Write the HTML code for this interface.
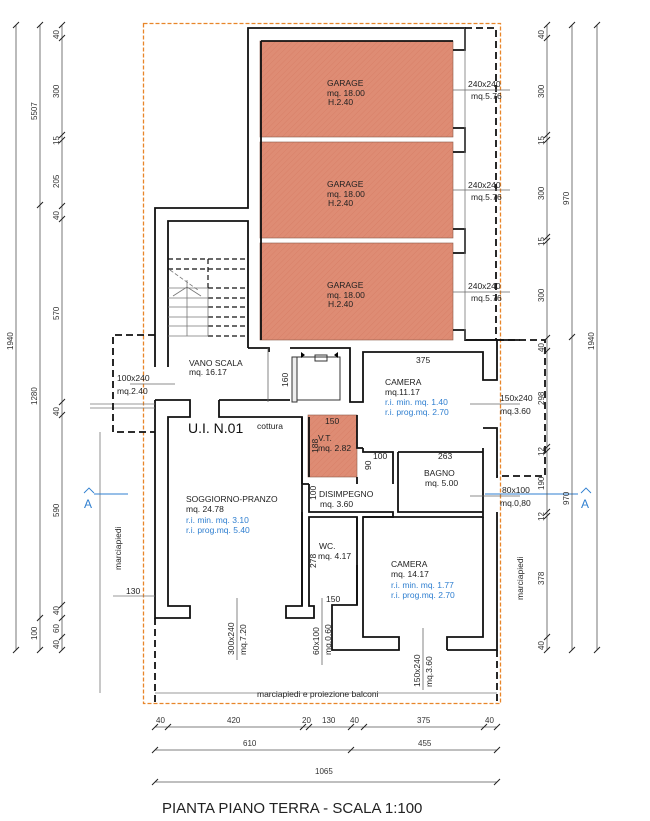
<!DOCTYPE html>
<html><head><meta charset="utf-8"><style>
html,body{margin:0;padding:0;background:#fff;}
svg{display:block;font-family:"Liberation Sans",sans-serif;}
.t{font-size:8.5px;fill:#222;}
.b{font-size:8.5px;fill:#2f7fd0;}
.d{font-size:8px;fill:#333;}
</style></head><body>
<svg width="650" height="821" viewBox="0 0 650 821" xmlns="http://www.w3.org/2000/svg">
<defs>
<pattern id="h" width="4" height="4" patternUnits="userSpaceOnUse" patternTransform="rotate(45)">
<rect width="4" height="4" fill="#de8c74"/><line x1="0" y1="0" x2="0" y2="4" stroke="#d88068" stroke-width="1"/>
</pattern>
</defs>
<!-- orange boundary -->
<rect x="143.5" y="23.5" width="357" height="680" fill="none" stroke="#e8862a" stroke-width="1.3" stroke-dasharray="4,2"/>
<!-- garages -->
<rect x="260" y="41" width="193" height="96" fill="url(#h)" stroke="#8a5a4a" stroke-width="0.6"/>
<rect x="260" y="142" width="193" height="96" fill="url(#h)" stroke="#8a5a4a" stroke-width="0.6"/>
<rect x="260" y="243" width="193" height="97" fill="url(#h)" stroke="#8a5a4a" stroke-width="0.6"/>
<rect x="308" y="415" width="49" height="62" fill="url(#h)" stroke="#8a5a4a" stroke-width="0.6"/>
<g fill="none" stroke="#111" stroke-width="1.8">
<!-- upper block -->
<path d="M155,367 V208 H248 V28 H465 V50 H453"/>
<path d="M453,128 H465 V152 H453 M453,229 H465 V253 H453 M453,330 H465 V340 H520"/>
<path d="M168,367 V221 H248 V348"/>
<path d="M261,41 V340 M261,41 H453"/>
<path d="M248,348 H269 V352 M290,348 H350 V402 H363 V352 H483 V380 H497 V340 H465"/>
<!-- left wall & living -->
<path d="M155,400 V618 H190 V606 H168 V417 H190 V400 H155"/>
<path d="M219,400 V417 H302 V606 H286 V618 H314 V606 H309 V517 H357 V605 H332 V618 V650 H399 V637 H363 V517 H393 V512 H309 V484 M219,400 H290"/>
<path d="M302,417 V484 M309,417 V477 M357,415 V448 H363 M357,477 V484 M393,484 V452 H363 V448 M398,452 V512 H483 V452 H398 M483,512 V517 H363 M483,452 V448"/>
<path d="M447,650 H497 V512 M483,428 H497 V478 M483,517 V637 H447 V650"/>
<path d="M302,484 H309 M302,512 V606 M357,517 V540 M357,565 V605"/>
</g>
<!-- shaft -->
<g fill="none" stroke="#333" stroke-width="1">
<rect x="296" y="357" width="44" height="43"/>
<rect x="292" y="357" width="5" height="45" fill="#eee"/>
<rect x="315" y="355" width="12" height="6"/>
</g>
<path d="M301,352 l4,3 -4,3z M338,352 l-4,3 4,3z" fill="#000"/>
<!-- stairs -->
<g stroke="#111" stroke-width="1.2" stroke-dasharray="5,3">
<line x1="168" y1="259" x2="248" y2="259"/><line x1="168" y1="269" x2="248" y2="269"/>
<line x1="208" y1="288" x2="248" y2="288"/><line x1="208" y1="298" x2="248" y2="298"/>
<line x1="208" y1="307" x2="248" y2="307"/><line x1="208" y1="317" x2="248" y2="317"/>
<line x1="208" y1="326" x2="248" y2="326"/><line x1="208" y1="336" x2="248" y2="336"/>
<line x1="208" y1="259" x2="208" y2="290"/>
</g>
<g stroke="#777" stroke-width="0.8" fill="none">
<line x1="168" y1="288" x2="208" y2="288"/><line x1="168" y1="298" x2="208" y2="298"/>
<line x1="168" y1="307" x2="208" y2="307"/><line x1="168" y1="317" x2="208" y2="317"/>
<line x1="168" y1="326" x2="208" y2="326"/><line x1="168" y1="336" x2="208" y2="336"/>
<line x1="187" y1="280" x2="187" y2="336"/><line x1="208" y1="288" x2="208" y2="336"/>
<line x1="170" y1="270" x2="198" y2="290" stroke-dasharray="4,2"/>
<path d="M173,296 L187,287 L201,296"/>
<!-- thin door/window lines -->
<line x1="465" y1="28" x2="465" y2="340"/>
<line x1="90" y1="404" x2="155" y2="404"/><line x1="90" y1="408" x2="155" y2="408"/>
<line x1="155" y1="693" x2="497" y2="693"/>
<line x1="113" y1="596" x2="155" y2="596"/>
<line x1="100" y1="432" x2="100" y2="693"/>
</g>
<!-- dashed balconies -->
<g stroke="#111" stroke-width="1.8" fill="none" stroke-dasharray="7,4">
<path d="M155,335 H113 V432 H155"/>
<path d="M465,28 H496 V340"/>
<path d="M497,340 H545 V476 H497"/>
<path d="M155,618 V703 M497,650 V703"/>
</g>
<!-- window ticks -->
<g stroke="#666" stroke-width="0.8">
<line x1="453" y1="90" x2="510" y2="90"/><line x1="453" y1="190" x2="510" y2="190"/><line x1="453" y1="292" x2="510" y2="292"/>
<line x1="130" y1="384" x2="175" y2="384"/>
<line x1="470" y1="404" x2="520" y2="404"/><line x1="470" y1="496" x2="520" y2="496"/>
<line x1="237" y1="598" x2="237" y2="660"/><line x1="322" y1="598" x2="322" y2="665"/><line x1="423" y1="628" x2="423" y2="690"/>
<line x1="268" y1="348" x2="268" y2="402"/>
</g>
<!-- garage text -->
<g class="t">
<text x="327" y="86">GARAGE</text><text x="327" y="96">mq. 18.00</text><text x="328" y="105">H.2.40</text>
<text x="327" y="187">GARAGE</text><text x="327" y="197">mq. 18.00</text><text x="328" y="206">H.2.40</text>
<text x="327" y="288">GARAGE</text><text x="327" y="298">mq. 18.00</text><text x="328" y="307">H.2.40</text>
<text x="468" y="87">240x240</text><text x="471" y="99">mq.5.76</text>
<text x="468" y="188">240x240</text><text x="471" y="200">mq.5.76</text>
<text x="468" y="289">240x240</text><text x="471" y="301">mq.5.76</text>
<text x="189" y="366">VANO SCALA</text><text x="189" y="375">mq. 16.17</text>
<text x="117" y="381">100x240</text><text x="117" y="394">mq.2.40</text>
<text x="385" y="385">CAMERA</text><text x="385" y="395">mq.11.17</text>
<text x="416" y="363">375</text>
<text class="b" x="385" y="405">r.i. min. mq. 1.40</text><text class="b" x="385" y="415">r.i. prog.mq. 2.70</text>
<text x="500" y="401">150x240</text><text x="500" y="414">mq.3.60</text>
<text x="257" y="429">cottura</text>
<text x="325" y="424">150</text>
<text x="318" y="441">V.T.</text><text x="318" y="451">mq. 2.82</text>
<text x="373" y="459">100</text><text x="438" y="459">263</text>
<text x="424" y="476">BAGNO</text><text x="425" y="486">mq. 5.00</text>
<text x="319" y="497">DISIMPEGNO</text><text x="320" y="507">mq. 3.60</text>
<text x="502" y="493">80x100</text><text x="500" y="506">mq.0,80</text>
<text x="186" y="502">SOGGIORNO-PRANZO</text><text x="186" y="512">mq. 24.78</text>
<text class="b" x="186" y="523">r.i. min. mq. 3.10</text><text class="b" x="186" y="533">r.i. prog.mq. 5.40</text>
<text x="319" y="549">WC.</text><text x="318" y="559">mq. 4.17</text>
<text x="391" y="567">CAMERA</text><text x="391" y="577">mq. 14.17</text>
<text class="b" x="391" y="588">r.i. min. mq. 1.77</text><text class="b" x="391" y="598">r.i. prog.mq. 2.70</text>
<text x="126" y="594">130</text><text x="326" y="602">150</text>
<text x="257" y="697">marciapiedi e proiezione balconi</text>
</g>
<text x="188" y="433" font-size="14" fill="#111">U.I. N.01</text>
<g class="t">
<text transform="translate(288,387) rotate(-90)">160</text>
<text transform="translate(318,453) rotate(-90)">188</text>
<text transform="translate(371,470) rotate(-90)">90</text>
<text transform="translate(316,500) rotate(-90)">100</text>
<text transform="translate(316,568) rotate(-90)">278</text>
<text transform="translate(234,655) rotate(-90)">300x240</text><text transform="translate(246,655) rotate(-90)">mq.7.20</text>
<text transform="translate(319,655) rotate(-90)">60x100</text><text transform="translate(331,655) rotate(-90)">mq.0.60</text>
<text transform="translate(420,687) rotate(-90)">150x240</text><text transform="translate(432,687) rotate(-90)">mq.3.60</text>
<text transform="translate(121,570) rotate(-90)">marciapiedi</text>
<text transform="translate(523,600) rotate(-90)">marciapiedi</text>
</g>
<!-- section A -->
<g fill="none" stroke="#2f7fd0" stroke-width="0.9">
<path d="M84,493 L89,488 L94,493 M94,494 H128" stroke-dasharray="0"/>
<path d="M485,494 H578 M581,493 L586,488 L591,493"/>
</g>
<text x="84" y="508" font-size="12" fill="#2f7fd0">A</text>
<text x="581" y="508" font-size="12" fill="#2f7fd0">A</text>
<!-- vertical dimension lines -->
<g stroke="#555" stroke-width="0.8">
<line x1="16" y1="25" x2="16" y2="650"/><line x1="40" y1="25" x2="40" y2="650"/><line x1="62" y1="25" x2="62" y2="650"/>
<line x1="547" y1="25" x2="547" y2="650"/><line x1="572" y1="25" x2="572" y2="650"/><line x1="597" y1="25" x2="597" y2="650"/>
<line x1="155" y1="727" x2="497" y2="727"/><line x1="155" y1="750" x2="497" y2="750"/><line x1="155" y1="782" x2="497" y2="782"/>
</g>
<g stroke="#222" stroke-width="1">
<path d="M13,28l6,-6M13,653l6,-6 M37,28l6,-6M37,208l6,-6M37,621l6,-6M37,653l6,-6"/>
<path d="M59,28l6,-6M59,41l6,-6M59,138l6,-6M59,143l6,-6M59,209l6,-6M59,222l6,-6M59,405l6,-6M59,418l6,-6M59,608l6,-6M59,621l6,-6M59,640l6,-6M59,653l6,-6"/>
<path d="M544,28l6,-6M544,41l6,-6M544,138l6,-6M544,143l6,-6M544,240l6,-6M544,244l6,-6M544,341l6,-6M544,354l6,-6M544,450l6,-6M544,454l6,-6M544,515l6,-6M544,519l6,-6M544,640l6,-6M544,653l6,-6"/>
<path d="M569,28l6,-6M569,340l6,-6M569,653l6,-6M594,28l6,-6M594,653l6,-6"/>
<path d="M152,730l6,-6M165,730l6,-6M300,730l6,-6M306,730l6,-6M348,730l6,-6M361,730l6,-6M481,730l6,-6M494,730l6,-6"/>
<path d="M152,753l6,-6M348,753l6,-6M494,753l6,-6M152,785l6,-6M494,785l6,-6"/>
</g>
<g class="d">
<text transform="translate(13,350) rotate(-90)">1940</text>
<text transform="translate(37,405) rotate(-90)">1280</text>
<text transform="translate(37,640) rotate(-90)">100</text>
<text transform="translate(37,120) rotate(-90)">5507</text>
<text transform="translate(59,39) rotate(-90)">40</text>
<text transform="translate(59,98) rotate(-90)">300</text>
<text transform="translate(59,145) rotate(-90)">15</text>
<text transform="translate(59,188) rotate(-90)">205</text>
<text transform="translate(59,220) rotate(-90)">40</text>
<text transform="translate(59,320) rotate(-90)">570</text>
<text transform="translate(59,416) rotate(-90)">40</text>
<text transform="translate(59,517) rotate(-90)">590</text>
<text transform="translate(59,615) rotate(-90)">40</text>
<text transform="translate(59,633) rotate(-90)">60</text>
<text transform="translate(59,649) rotate(-90)">40</text>
<text transform="translate(544,39) rotate(-90)">40</text>
<text transform="translate(544,98) rotate(-90)">300</text>
<text transform="translate(544,145) rotate(-90)">15</text>
<text transform="translate(544,200) rotate(-90)">300</text>
<text transform="translate(544,246) rotate(-90)">15</text>
<text transform="translate(544,302) rotate(-90)">300</text>
<text transform="translate(544,352) rotate(-90)">40</text>
<text transform="translate(544,405) rotate(-90)">298</text>
<text transform="translate(544,456) rotate(-90)">12</text>
<text transform="translate(544,490) rotate(-90)">190</text>
<text transform="translate(544,521) rotate(-90)">12</text>
<text transform="translate(544,585) rotate(-90)">378</text>
<text transform="translate(544,650) rotate(-90)">40</text>
<text transform="translate(569,205) rotate(-90)">970</text>
<text transform="translate(569,505) rotate(-90)">970</text>
<text transform="translate(594,350) rotate(-90)">1940</text>
<text x="156" y="723">40</text><text x="227" y="723">420</text><text x="302" y="723">20</text><text x="322" y="723">130</text><text x="350" y="723">40</text><text x="417" y="723">375</text><text x="485" y="723">40</text>
<text x="243" y="746">610</text><text x="418" y="746">455</text><text x="315" y="774">1065</text>
</g>
<text x="162" y="813" font-size="15" fill="#222">PIANTA PIANO TERRA - SCALA 1:100</text>
</svg>
</body></html>
